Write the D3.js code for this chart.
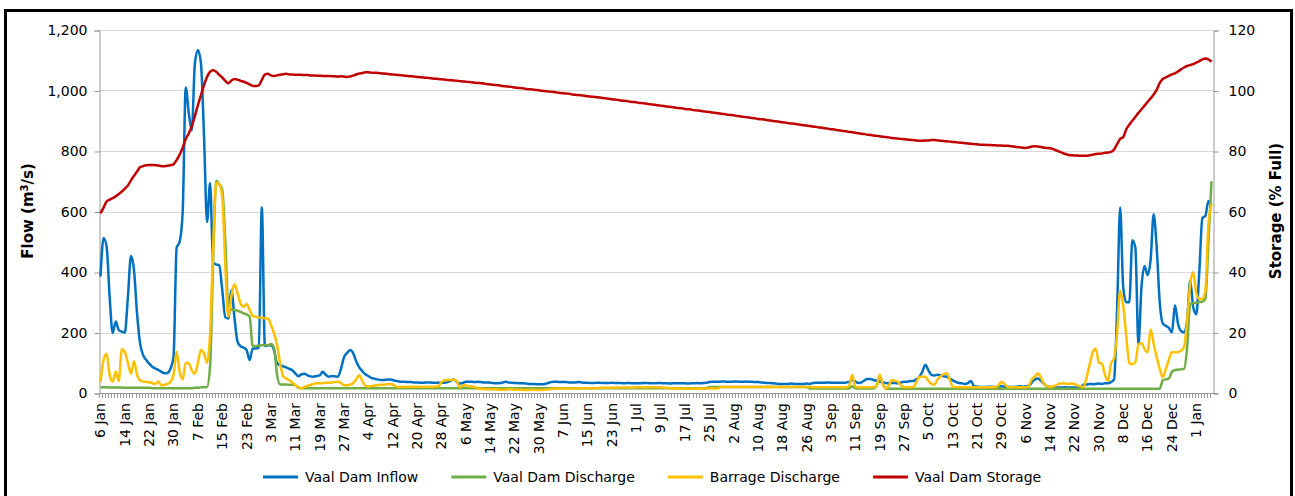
<!DOCTYPE html>
<html>
<head>
<meta charset="utf-8">
<script src="https://cdn.jsdelivr.net/npm/d3@7/dist/d3.min.js"></script>
<style>
  html, body { margin: 0; padding: 0; background: #fff; }
  svg { display: block; }
  .tick text { font-family: "DejaVu Sans", sans-serif; }
</style>
</head>
<body>
<svg id="chart" width="1295" height="496"></svg>
<script>
// Daily series, 6 Jan 2010 .. 6 Jan 2011
var startDate = new Date(2010, 0, 6);

var tickLabels = ['6 Jan', '14 Jan', '22 Jan', '30 Jan', '7 Feb', '15 Feb', '23 Feb', '3 Mar',
  '11 Mar', '19 Mar', '27 Mar', '4 Apr', '12 Apr', '20 Apr', '28 Apr', '6 May', '14 May',
  '22 May', '30 May', '7 Jun', '15 Jun', '23 Jun', '1 Jul', '9 Jul', '17 Jul', '25 Jul',
  '2 Aug', '10 Aug', '18 Aug', '26 Aug', '3 Sep', '11 Sep', '19 Sep', '27 Sep', '5 Oct',
  '13 Oct', '21 Oct', '29 Oct', '6 Nov', '14 Nov', '22 Nov', '30 Nov', '8 Dec', '16 Dec',
  '24 Dec', '1 Jan'];

var flowTicks = [0, 200, 400, 600, 800, 1000, 1200];
var storageTicks = [0, 20, 40, 60, 80, 100, 120];

// Vaal Dam Inflow (m3/s)
var inflow = [
  385, 512, 484, 318, 198, 236, 208, 203, 200, 318,
  453, 406, 263, 164, 125, 109, 97, 87, 81, 76,
  70, 65, 66, 81, 120, 480, 500, 600, 1010, 925,
  869, 1090, 1134, 1090, 850, 565, 694, 430, 425, 422,
  340, 250, 246, 340, 250, 170, 155, 150, 142, 109,
  147, 147, 150, 614, 155, 158, 158, 142, 98, 92,
  88, 85, 80, 75, 65, 55, 62, 64, 58, 55,
  54, 56, 58, 70, 60, 54, 56, 55, 54, 80,
  118, 132, 142, 132, 105, 85, 72, 62, 56, 50,
  47, 45, 43, 43, 44, 45, 43, 40, 38, 37,
  37, 36, 36, 35, 35, 34, 34, 35, 35, 34,
  34, 34, 34, 34, 36, 40, 45, 37, 31, 33,
  37, 37, 37, 36, 37, 36, 35, 35, 34, 33,
  32, 33, 34, 37, 35, 34, 33, 33, 32, 32,
  31, 30, 30, 29, 29, 29, 30, 33, 36, 37,
  37, 36, 36, 36, 35, 35, 35, 36, 35, 34,
  34, 33, 33, 34, 34, 33, 33, 33, 34, 33,
  33, 33, 32, 33, 33, 32, 32, 32, 33, 33,
  33, 32, 32, 33, 33, 32, 32, 31, 32, 32,
  32, 32, 32, 31, 32, 32, 33, 32, 33, 34,
  36, 37, 37, 37, 38, 38, 37, 37, 38, 38,
  37, 37, 38, 37, 37, 36, 36, 35, 34, 33,
  33, 32, 31, 30, 30, 30, 30, 31, 30, 30,
  30, 30, 31, 30, 33, 34, 34, 34, 34, 35,
  34, 34, 34, 34, 34, 35, 37, 43, 38, 33,
  35, 42, 46, 46, 43, 40, 38, 35, 33, 32,
  33, 33, 32, 35, 37, 37, 40, 40, 45, 54,
  70, 93, 75, 60, 58, 60, 58, 55, 54, 48,
  42, 37, 33, 32, 30, 33, 40, 22, 21, 20,
  20, 20, 21, 20, 20, 21, 22, 21, 20, 20,
  20, 21, 22, 21, 22, 24, 35, 45, 48, 40,
  30, 22, 20, 19, 18, 18, 18, 19, 18, 18,
  18, 18, 19, 28, 28, 30, 29, 30, 31, 30,
  32, 32, 36, 45, 280, 613, 350, 300, 300, 505,
  480, 160, 350, 420, 390, 440, 591, 480, 300, 230,
  222, 215, 200, 290, 230, 205, 200, 240, 371, 284,
  260, 400, 578, 586, 635, 619
];

// Vaal Dam Discharge (m3/s)
var discharge = [
  19, 19, 19, 18, 18, 18, 18, 18, 17, 17,
  17, 17, 17, 17, 17, 17, 17, 16, 16, 16,
  16, 16, 16, 16, 16, 16, 16, 16, 16, 16,
  16, 17, 17, 19, 19, 20, 90, 440, 702, 690,
  672, 500, 285, 276, 274, 272, 268, 263, 260, 252,
  155, 155, 157, 158, 158, 158, 162, 150, 60, 28,
  28, 28, 27, 27, 26, 17, 16, 16, 16, 16,
  16, 16, 16, 16, 16, 16, 16, 16, 16, 16,
  16, 16, 16, 16, 16, 16, 16, 16, 16, 16,
  16, 16, 16, 16, 16, 16, 16, 16, 16, 16,
  16, 16, 16, 16, 16, 16, 16, 16, 16, 16,
  16, 16, 16, 16, 16, 16, 16, 16, 16, 16,
  16, 16, 16, 16, 16, 16, 16, 16, 16, 16,
  16, 16, 16, 16, 16, 16, 16, 16, 16, 16,
  16, 16, 16, 16, 16, 16, 16, 16, 16, 16,
  16, 16, 16, 16, 16, 16, 16, 16, 16, 16,
  16, 16, 16, 16, 16, 16, 16, 16, 16, 16,
  16, 16, 16, 16, 16, 16, 16, 16, 16, 16,
  16, 16, 16, 16, 16, 16, 16, 16, 16, 16,
  16, 16, 16, 16, 16, 16, 16, 16, 16, 16,
  20, 20, 20, 20, 20, 20, 20, 20, 20, 20,
  20, 20, 20, 20, 20, 20, 20, 20, 20, 20,
  20, 20, 20, 20, 20, 20, 20, 20, 20, 20,
  20, 20, 20, 15, 15, 15, 15, 15, 15, 15,
  15, 15, 15, 15, 15, 15, 15, 22, 16, 15,
  15, 15, 15, 15, 15, 25, 52, 30, 15, 14,
  14, 14, 14, 14, 14, 14, 14, 14, 14, 14,
  14, 14, 14, 14, 14, 14, 14, 14, 14, 14,
  14, 14, 14, 14, 14, 14, 14, 14, 14, 14,
  14, 14, 14, 14, 14, 14, 14, 14, 14, 14,
  14, 14, 14, 14, 14, 14, 14, 14, 14, 14,
  14, 14, 14, 14, 14, 14, 14, 14, 14, 14,
  14, 14, 14, 14, 14, 14, 14, 14, 14, 14,
  14, 14, 14, 14, 14, 14, 14, 14, 14, 14,
  14, 14, 14, 14, 14, 14, 14, 14, 14, 42,
  45, 48, 70, 76, 77, 78, 80, 150, 295, 297,
  298, 300, 302, 311, 500, 700
];

// Barrage Discharge (m3/s)
var barrage = [
  37, 110, 130, 60, 38, 70, 40, 145, 136, 100,
  64, 105, 60, 42, 38, 37, 35, 33, 30, 38,
  25, 27, 30, 37, 60, 136, 70, 45, 100, 98,
  75, 64, 100, 142, 131, 100, 197, 480, 695, 690,
  650, 420, 252, 320, 360, 330, 296, 285, 294, 275,
  255, 252, 250, 249, 247, 246, 225, 197, 160, 98,
  56, 48, 42, 35, 26, 20, 15, 20, 23, 27,
  30, 32, 32, 33, 34, 34, 35, 36, 37, 33,
  26, 26, 27, 33, 45, 59, 40, 24, 21, 23,
  25, 26, 27, 27, 29, 30, 28, 22, 19, 20,
  20, 21, 21, 20, 21, 20, 20, 21, 21, 20,
  21, 22, 35, 42, 43, 43, 44, 40, 19, 24,
  26, 22, 21, 20, 15, 14, 13, 12, 12, 12,
  12, 11, 11, 11, 12, 12, 11, 11, 11, 10,
  10, 10, 11, 10, 10, 10, 11, 12, 13, 14,
  15, 15, 15, 15, 15, 15, 15, 15, 16, 16,
  16, 16, 16, 16, 17, 17, 17, 17, 17, 18,
  18, 18, 18, 18, 18, 18, 19, 19, 19, 19,
  19, 19, 19, 19, 18, 18, 17, 16, 16, 15,
  15, 15, 15, 15, 15, 15, 15, 15, 15, 15,
  15, 15, 15, 16, 20, 20, 20, 20, 20, 20,
  20, 20, 20, 20, 20, 20, 20, 20, 20, 20,
  20, 20, 20, 20, 20, 20, 20, 20, 20, 20,
  20, 20, 20, 20, 19, 19, 19, 19, 19, 19,
  19, 19, 19, 19, 19, 19, 25, 60, 21, 19,
  19, 19, 19, 19, 19, 25, 60, 30, 15, 25,
  43, 40, 37, 25, 19, 19, 19, 19, 35, 54,
  54, 54, 40, 30, 27, 45, 55, 62, 65, 45,
  21, 19, 19, 19, 19, 19, 19, 19, 19, 19,
  19, 19, 19, 19, 19, 25, 37, 30, 20, 19,
  19, 19, 19, 19, 19, 25, 45, 54, 65, 50,
  30, 23, 20, 22, 25, 31, 31, 31, 30, 31,
  30, 25, 22, 20, 53, 95, 135, 146, 100, 97,
  60, 40, 97, 115, 200, 338, 290, 190, 100, 95,
  102, 160, 165, 145, 135, 210, 163, 119, 80, 53,
  80, 110, 135, 135, 135, 140, 152, 240, 360, 399,
  330, 311, 311, 340, 560, 624
];

// Vaal Dam Storage (% full)
var storage = [
  59.4, 61.3, 63.3, 63.9, 64.4, 65.0, 65.8, 66.6, 67.6, 68.6,
  70.3, 71.8, 73.2, 74.6, 75.0, 75.3, 75.4, 75.4, 75.3, 75.2,
  75.0, 75.0, 75.1, 75.3, 75.6, 77.0, 78.8, 81.1, 84.0, 85.8,
  88.3, 91.5, 95.2, 98.5, 101.8, 104.5, 106.2, 106.7, 106.2, 105.2,
  104.3, 103.2, 102.4, 103.3, 103.8, 103.6, 103.2, 102.9, 102.5, 102.0,
  101.5, 101.5, 101.7, 103.5, 105.3, 105.5, 105.0, 104.8, 105.0, 105.2,
  105.4, 105.5, 105.3, 105.3, 105.2, 105.2, 105.2, 105.1, 105.1, 105.0,
  105.0, 104.9, 104.9, 104.8, 104.8, 104.8, 104.7, 104.7, 104.6, 104.7,
  104.6, 104.5, 104.6, 104.9, 105.3, 105.6, 105.8, 106.0, 106.0, 105.9,
  105.9, 105.8, 105.7, 105.6, 105.5, 105.4, 105.3, 105.2, 105.1, 105.0,
  104.9, 104.8, 104.7, 104.6, 104.5, 104.4, 104.3, 104.2, 104.1, 104.0,
  103.9, 103.8, 103.7, 103.6, 103.5, 103.4, 103.3, 103.2, 103.1, 103.0,
  102.9, 102.8, 102.7, 102.6, 102.5, 102.4, 102.3, 102.1, 102.0, 101.9,
  101.8, 101.7, 101.5, 101.4, 101.3, 101.2, 101.0, 100.9, 100.8, 100.7,
  100.5, 100.4, 100.3, 100.2, 100.1, 99.9, 99.8, 99.7, 99.6, 99.5,
  99.3, 99.2, 99.1, 99.0, 98.9, 98.7, 98.6, 98.5, 98.4, 98.3,
  98.1, 98.0, 97.9, 97.8, 97.7, 97.5, 97.4, 97.3, 97.1, 97.0,
  96.9, 96.7, 96.6, 96.5, 96.3, 96.2, 96.1, 95.9, 95.8, 95.7,
  95.5, 95.4, 95.3, 95.1, 95.0, 94.9, 94.7, 94.6, 94.5, 94.3,
  94.2, 94.1, 93.9, 93.8, 93.7, 93.5, 93.4, 93.3, 93.1, 93.0,
  92.9, 92.7, 92.6, 92.5, 92.3, 92.2, 92.0, 91.9, 91.8, 91.6,
  91.5, 91.3, 91.2, 91.1, 90.9, 90.8, 90.6, 90.5, 90.4, 90.2,
  90.1, 89.9, 89.8, 89.7, 89.5, 89.4, 89.2, 89.1, 89.0, 88.8,
  88.7, 88.5, 88.4, 88.3, 88.1, 88.0, 87.8, 87.7, 87.5, 87.4,
  87.2, 87.1, 86.9, 86.8, 86.6, 86.5, 86.3, 86.2, 86.0, 85.9,
  85.7, 85.6, 85.4, 85.3, 85.1, 85.0, 84.9, 84.7, 84.6, 84.5,
  84.3, 84.2, 84.1, 84.0, 83.9, 83.8, 83.7, 83.6, 83.5, 83.4,
  83.4, 83.5, 83.5, 83.6, 83.6, 83.5, 83.4, 83.3, 83.2, 83.1,
  83.0, 82.9, 82.8, 82.7, 82.6, 82.5, 82.4, 82.3, 82.2, 82.1,
  82.1, 82.0, 82.0, 81.9, 81.9, 81.8, 81.8, 81.7, 81.7, 81.6,
  81.5, 81.3, 81.2, 81.1, 81.0, 81.2, 81.5, 81.6, 81.5, 81.3,
  81.1, 81.0, 80.9, 80.6, 80.2, 79.8, 79.4, 79.0, 78.7, 78.6,
  78.5, 78.5, 78.4, 78.4, 78.4, 78.6, 78.8, 79.0, 79.1, 79.2,
  79.4, 79.5, 79.7, 80.5, 82.3, 84.0, 84.6, 87.2, 88.7, 90.0,
  91.3, 92.6, 93.8, 95.0, 96.2, 97.4, 98.7, 100.2, 102.5, 103.8,
  104.3, 104.8, 105.3, 105.7, 106.3, 107.0, 107.6, 108.1, 108.4, 108.7,
  109.2, 109.7, 110.3, 110.6, 110.3, 109.5
];

var seriesNames = ['Vaal Dam Inflow', 'Vaal Dam Discharge', 'Barrage Discharge', 'Vaal Dam Storage'];
var seriesColors = ['#0070C0', '#70AD47', '#FFC000', '#C00000'];

var dates = inflow.map(function(d, i) { return d3.timeDay.offset(startDate, i); });

var svg = d3.select('#chart');

// Plot area (note: "top" is reserved on window, so use a prefix)
var plotLeft = 99, plotRight = 1213, plotTop = 30, plotBottom = 393;

// Scales
var x = d3.scaleTime()
    .domain([d3.timeHour.offset(dates[0], -12), d3.timeHour.offset(dates[dates.length - 1], 12)])
    .range([plotLeft, plotRight]);
var y = d3.scaleLinear().domain([0, 1200]).range([plotBottom, plotTop]);
var y2 = d3.scaleLinear().domain([0, 120]).range([plotBottom, plotTop]);

// Outer frame
svg.append('rect')
    .attr('x', 5.5).attr('y', 10.5)
    .attr('width', 1286).attr('height', 500)
    .attr('fill', 'none')
    .attr('stroke', '#000')
    .attr('stroke-width', 3);

// Gridlines
svg.append('g')
    .selectAll('line')
    .data(flowTicks.slice(1))
    .enter().append('line')
    .attr('x1', plotLeft).attr('x2', plotRight)
    .attr('y1', function(d) { return Math.round(y(d)) + 0.5; })
    .attr('y2', function(d) { return Math.round(y(d)) + 0.5; })
    .attr('stroke', '#D9D9D9')
    .attr('stroke-width', 1);

// Left axis
var yAxis = d3.axisLeft(y)
    .tickValues(flowTicks)
    .tickSize(5)
    .tickPadding(7)
    .tickFormat(d3.format(','));
svg.append('g')
    .attr('transform', 'translate(' + (plotLeft + 0.5) + ',0.5)')
    .call(yAxis)
    .call(function(g) {
        g.selectAll('path, line').attr('stroke', '#999');
        g.selectAll('text').attr('font-size', 14).attr('fill', '#000');
    });

// Right axis
var yAxis2 = d3.axisRight(y2)
    .tickValues(storageTicks)
    .tickSize(5)
    .tickPadding(10);
svg.append('g')
    .attr('transform', 'translate(' + (plotRight + 0.5) + ',0.5)')
    .call(yAxis2)
    .call(function(g) {
        g.selectAll('path, line').attr('stroke', '#999');
        g.selectAll('text').attr('font-size', 14).attr('fill', '#000');
    });

// Bottom axis: a tick for every day, a label every 8 days
var xAxisG = svg.append('g');
xAxisG.append('line')
    .attr('x1', plotLeft).attr('x2', plotRight + 5)
    .attr('y1', plotBottom + 0.5).attr('y2', plotBottom + 0.5)
    .attr('stroke', '#999');
xAxisG.selectAll('line.day')
    .data(dates)
    .enter().append('line')
    .attr('class', 'day')
    .attr('x1', function(d) { return Math.round(x(d3.timeHour.offset(d, -12))) + 0.5; })
    .attr('x2', function(d) { return Math.round(x(d3.timeHour.offset(d, -12))) + 0.5; })
    .attr('y1', plotBottom).attr('y2', plotBottom + 5)
    .attr('stroke', '#999');
xAxisG.selectAll('text')
    .data(tickLabels)
    .enter().append('text')
    .attr('transform', function(d, i) {
        return 'translate(' + x(dates[i * 8]) + ',' + (plotBottom + 10) + ') rotate(-90)';
    })
    .attr('dy', '0.35em')
    .attr('text-anchor', 'end')
    .style('font-family', '"DejaVu Sans", sans-serif')
    .style('font-size', '14px')
    .text(function(d) { return d; });

// Axis titles
var flowTitle = svg.append('text')
    .attr('transform', 'translate(33,211) rotate(-90)')
    .attr('text-anchor', 'middle')
    .style('font-family', '"DejaVu Sans", sans-serif')
    .style('font-size', '15px')
    .style('font-weight', 'bold');
flowTitle.append('tspan').text('Flow (m');
flowTitle.append('tspan').attr('baseline-shift', 'super').style('font-size', '10px').text('3');
flowTitle.append('tspan').text('/s)');

svg.append('text')
    .attr('transform', 'translate(1281,211) rotate(-90)')
    .attr('text-anchor', 'middle')
    .style('font-family', '"DejaVu Sans", sans-serif')
    .style('font-size', '15px')
    .style('font-weight', 'bold')
    .text('Storage (% Full)');

// Lines
var flowLine = d3.line()
    .x(function(d, i) { return x(dates[i]); })
    .y(function(d) { return y(d); })
    .curve(d3.curveMonotoneX);
var storageLine = d3.line()
    .x(function(d, i) { return x(dates[i]); })
    .y(function(d) { return y2(d); })
    .curve(d3.curveMonotoneX);

var plot = svg.append('g');
[inflow, discharge, barrage].forEach(function(s, k) {
    plot.append('path')
        .datum(s)
        .attr('d', flowLine)
        .attr('fill', 'none')
        .attr('stroke', seriesColors[k])
        .attr('stroke-width', 2.5)
        .attr('stroke-linejoin', 'round');
});
plot.append('path')
    .datum(storage)
    .attr('d', storageLine)
    .attr('fill', 'none')
    .attr('stroke', seriesColors[3])
    .attr('stroke-width', 2.5)
    .attr('stroke-linejoin', 'round');

// Legend
var legend = svg.append('g').attr('transform', 'translate(0,477)');
var lx = 263;
seriesNames.forEach(function(name, k) {
    legend.append('line')
        .attr('x1', lx).attr('x2', lx + 35)
        .attr('y1', 0).attr('y2', 0)
        .attr('stroke', seriesColors[k])
        .attr('stroke-width', 3);
    var t = legend.append('text')
        .attr('x', lx + 42)
        .attr('dy', '0.35em')
        .style('font-family', '"DejaVu Sans", sans-serif')
        .style('font-size', '14px')
        .text(name);
    lx += 42 + t.node().getComputedTextLength() + 33;
});
</script>
</body>
</html>
